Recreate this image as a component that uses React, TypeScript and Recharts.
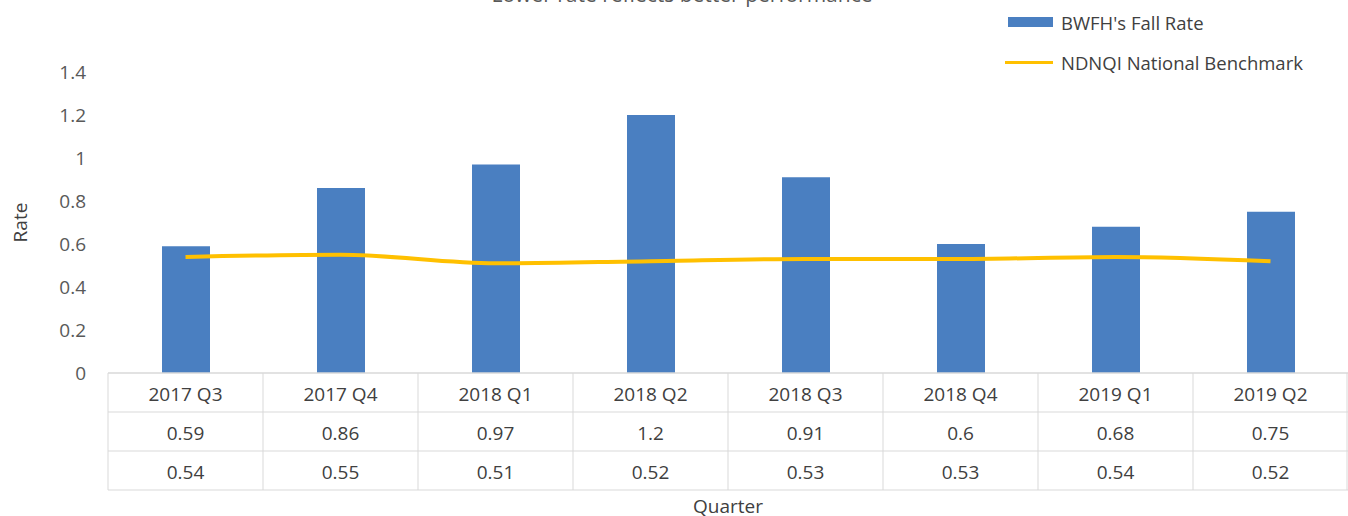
import React from 'react';
import { ComposedChart, Bar, Line, XAxis, YAxis, Label } from 'recharts';

const quarters = ['2017 Q3', '2017 Q4', '2018 Q1', '2018 Q2', '2018 Q3', '2018 Q4', '2019 Q1', '2019 Q2'];
const fallRate = [0.59, 0.86, 0.97, 1.2, 0.91, 0.6, 0.68, 0.75];
const benchmark = [0.54, 0.55, 0.51, 0.52, 0.53, 0.53, 0.54, 0.52];
const yTicks = [0, 0.2, 0.4, 0.6, 0.8, 1, 1.2, 1.4];

const data = quarters.map((q, i) => ({ quarter: q, fall: fallRate[i], bench: benchmark[i] }));

const W = 1348;
const H = 516;
const LEFT = 108;
const RIGHT = 0;
const BAND = (W - LEFT - RIGHT) / quarters.length;
const ROW = 39;
const FONT = '"Open Sans", sans-serif';
const TEXT = '#404040';
const GRID = '#d9d9d9';
const BLUE = '#4A7FC1';
const GOLD = '#FFC000';

const TableTick = (props: any) => {
  const { x, y, index } = props;
  const l = x - BAND / 2;
  const r = x + BAND / 2;
  const last = index === quarters.length - 1;
  const vals = [quarters[index], String(fallRate[index]), String(benchmark[index])];
  return (
    <g>
      <line x1={l} x2={l} y1={y} y2={y + ROW * 3} stroke={GRID} strokeWidth={1} />
      {last && <line x1={r - 1} x2={r - 1} y1={y} y2={y + ROW * 3} stroke={GRID} strokeWidth={1} />}
      {[1, 2, 3].map((k) => (
        <line key={k} x1={l} x2={r} y1={y + ROW * k} y2={y + ROW * k} stroke={GRID} strokeWidth={1} />
      ))}
      {vals.map((v, k) => (
        <text
          key={'t' + k}
          x={x}
          y={y + ROW * k + ROW / 2 + 1}
          textAnchor="middle"
          dominantBaseline="central"
          fill={TEXT}
          fontSize={19}
          fontFamily={FONT}
        >
          {v}
        </text>
      ))}
    </g>
  );
};

const LegendBox = () => (
  <div
    style={{
      position: 'absolute',
      top: 2,
      left: 1005,
      fontFamily: FONT,
      fontSize: 18.5,
      color: TEXT,
      whiteSpace: 'nowrap',
    }}
  >
    <div style={{ display: 'flex', alignItems: 'center', height: 40 }}>
      <div style={{ width: 45, height: 10, background: BLUE, marginLeft: 3, marginRight: 8 }} />
      <span>BWFH's Fall Rate</span>
    </div>
    <div style={{ display: 'flex', alignItems: 'center', height: 40 }}>
      <div style={{ width: 48, height: 3, background: GOLD, marginRight: 8 }} />
      <span>NDNQI National Benchmark</span>
    </div>
  </div>
);

export default function App() {
  return (
    <div style={{ position: 'absolute', left: 0, top: 0, width: W, height: H, background: '#fff', overflow: 'hidden' }}>
      <div
        style={{
          position: 'absolute',
          top: -20,
          left: 0,
          width: 1364,
          textAlign: 'center',
          fontFamily: FONT,
          fontSize: 21,
          color: '#595959',
        }}
      >
        Lower rate reflects better performance
      </div>
      <ComposedChart
        width={W}
        height={H}
        data={data}
        margin={{ top: 72, right: RIGHT, bottom: 0, left: 0 }}
      >
        <YAxis
          width={LEFT}
          domain={[0, 1.4]}
          ticks={yTicks}
          axisLine={false}
          tickLine={false}
          tickMargin={16}
          tick={{ fill: '#595959', fontSize: 19, fontFamily: FONT }}
        >
          <Label
            value="Rate"
            angle={-90}
            position="insideLeft"
            offset={20}
            style={{ textAnchor: 'middle', fill: TEXT, fontSize: 19, fontFamily: FONT }}
          />
        </YAxis>
        <XAxis
          dataKey="quarter"
          height={143}
          axisLine={{ stroke: GRID, strokeWidth: 1.5 }}
          tickLine={false}
          tickSize={0}
          tickMargin={0}
          interval={0}
          tick={<TableTick />}
        >
          <Label
            value="Quarter"
            position="insideBottom"
            offset={3}
            style={{ fill: TEXT, fontSize: 19, fontFamily: FONT }}
          />
        </XAxis>
        <Bar dataKey="fall" fill={BLUE} barSize={48} isAnimationActive={false} />
        <Line
          dataKey="bench"
          type="monotone"
          stroke={GOLD}
          strokeWidth={4}
          dot={false}
          isAnimationActive={false}
        />
      </ComposedChart>
      <LegendBox />
    </div>
  );
}
